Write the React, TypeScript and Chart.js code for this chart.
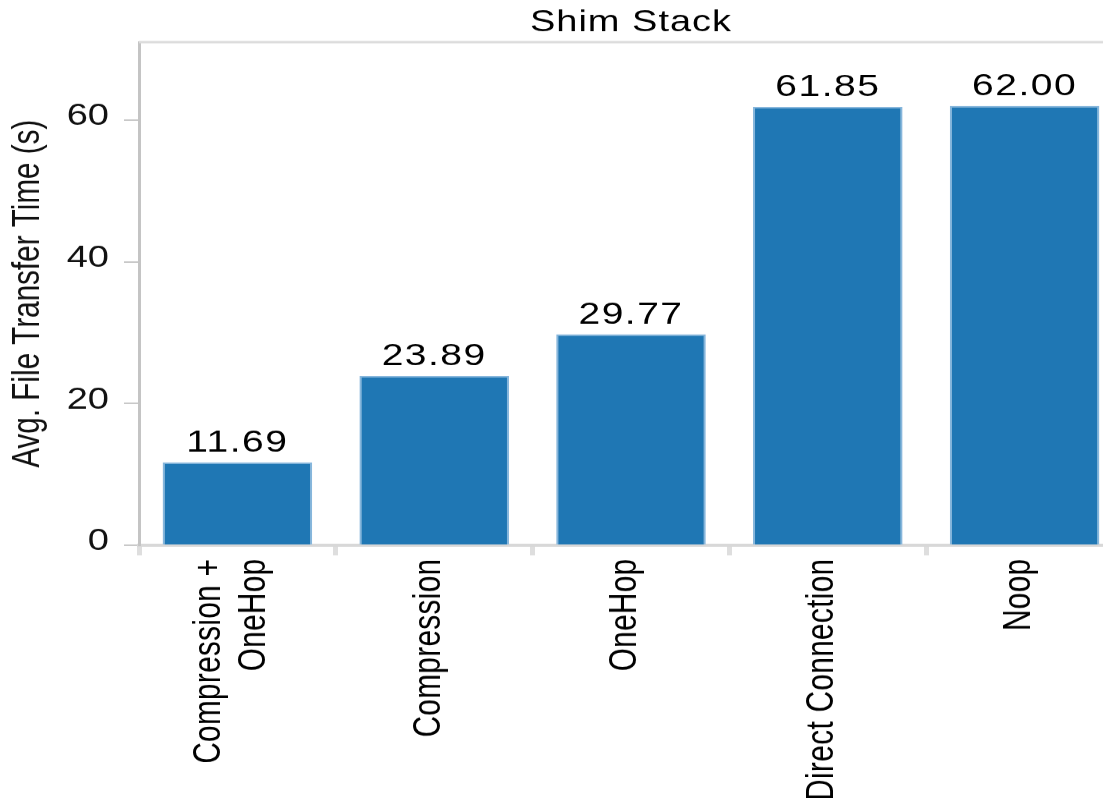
import { useEffect, useRef } from "react";
import { Chart, registerables } from "chart.js";

Chart.register(...registerables);

// Shim stack configurations (multi-line labels are arrays of lines)
const categories: string[][] = [
  ["Compression +", "OneHop"],
  ["Compression"],
  ["OneHop"],
  ["Direct Connection"],
  ["Noop"],
];

// Average file transfer time, seconds
const transferTimes: number[] = [11.69, 23.89, 29.77, 61.85, 62.0];

// Value axis
const yTickValues: number[] = [0, 20, 40, 60];
const yMax = 71;

const chartTitle = "Shim Stack";
const yAxisTitle = "Avg. File Transfer Time (s)";

// Drawing setup: the chart is drawn on a taller canvas and squashed vertically,
// which gives the wide, low lettering of the original rendering.
const FONT = '"Liberation Sans", Arial, Helvetica, sans-serif';
const SQUASH = 0.78;
const CANVAS_W = 1125;
const CANVAS_H = Math.round(798 / SQUASH);
const PLOT_TOP = 54;
const PLOT_LEFT = 139;
const AXIS_Y = 699;

const decorations = {
  id: "decorations",
  afterDraw(chart: any) {
    const { ctx, chartArea } = chart;
    const xs = chart.scales.x;
    ctx.save();

    // top edge of the plot frame
    ctx.strokeStyle = "#dcdcdc";
    ctx.lineWidth = 3;
    ctx.beginPath();
    ctx.moveTo(chartArea.left, chartArea.top);
    ctx.lineTo(chartArea.right, chartArea.top);
    ctx.stroke();

    // title, centred over the plot area
    ctx.fillStyle = "#000";
    ctx.font = `38px ${FONT}`;
    ctx.letterSpacing = "1px";
    ctx.textAlign = "center";
    ctx.textBaseline = "middle";
    ctx.fillText(chartTitle, (chartArea.left + chartArea.right) / 2, 30);

    // value labels above the bars
    const meta = chart.getDatasetMeta(0);
    ctx.font = `39px ${FONT}`;
    ctx.letterSpacing = "1.5px";
    ctx.textBaseline = "alphabetic";
    meta.data.forEach((bar: any, i: number) => {
      ctx.fillText(transferTimes[i].toFixed(2), bar.x, bar.y - 14);
    });

    // rotated category labels
    ctx.font = `38px ${FONT}`;
    ctx.letterSpacing = "0.5px";
    ctx.textAlign = "right";
    ctx.textBaseline = "middle";
    const lineH = 45;
    const top = xs.top + 17;
    categories.forEach((lines, i) => {
      const cx = xs.getPixelForValue(i) - 5;
      lines.forEach((line, j) => {
        ctx.save();
        ctx.translate(cx + (j - (lines.length - 1) / 2) * lineH, top);
        ctx.rotate(-Math.PI / 2);
        ctx.fillText(line, 0, 0);
        ctx.restore();
      });
    });

    ctx.restore();
  },
};

export default function App() {
  const canvasRef = useRef<HTMLCanvasElement>(null);

  useEffect(() => {
    const canvas = canvasRef.current;
    if (!canvas) return;
    const chart = new Chart(canvas, {
      type: "bar",
      data: {
        labels: categories,
        datasets: [
          {
            data: transferTimes,
            backgroundColor: "#1f77b4",
            borderColor: "#86b6dc",
            borderWidth: { top: 2, left: 2, right: 2, bottom: 0 },
            borderSkipped: "bottom",
            categoryPercentage: 1,
            barPercentage: 0.76,
          },
        ],
      },
      options: {
        animation: false,
        responsive: false,
        maintainAspectRatio: false,
        devicePixelRatio: 1,
        layout: { padding: { top: PLOT_TOP, right: 2, left: 0, bottom: 0 } },
        plugins: {
          legend: { display: false },
          tooltip: { enabled: false },
          title: { display: false },
        },
        scales: {
          x: {
            type: "category",
            offset: true,
            grid: {
              display: true,
              offset: true,
              drawOnChartArea: false,
              drawTicks: true,
              tickLength: 13,
              color: "#dedede",
              lineWidth: 5,
            },
            border: { display: true, color: "#d8d8d8", width: 4 },
            ticks: { display: false },
            afterFit(scale: any) {
              scale.height = CANVAS_H - AXIS_Y;
            },
          },
          y: {
            min: 0,
            max: yMax,
            afterBuildTicks(scale: any) {
              scale.ticks = yTickValues.map((v) => ({ value: v }));
            },
            grid: {
              drawOnChartArea: false,
              drawTicks: true,
              tickLength: 15,
              color: "#c8c8c8",
              lineWidth: 2,
            },
            border: { display: true, color: "#c4c4c4", width: 3 },
            ticks: {
              padding: 15,
              color: "#111",
              font: { family: FONT, size: 38 },
              labelOffset: -4,
            },
            title: {
              display: true,
              text: yAxisTitle,
              color: "#111",
              font: { family: FONT, size: 38 },
              padding: { top: 6, bottom: 0 },
            },
            afterFit(scale: any) {
              scale.width = PLOT_LEFT;
            },
          },
        },
      },
      plugins: [decorations],
    } as any);
    return () => chart.destroy();
  }, []);

  return (
    <div
      style={{
        position: "fixed",
        left: 0,
        top: 0,
        width: 1103,
        height: 798,
        overflow: "hidden",
        background: "#fff",
      }}
    >
      <div
        style={{
          width: CANVAS_W,
          height: CANVAS_H,
          transform: `scaleY(${SQUASH})`,
          transformOrigin: "0 0",
        }}
      >
        <canvas
          ref={canvasRef}
          width={CANVAS_W}
          height={CANVAS_H}
          style={{ display: "block" }}
        />
      </div>
    </div>
  );
}
